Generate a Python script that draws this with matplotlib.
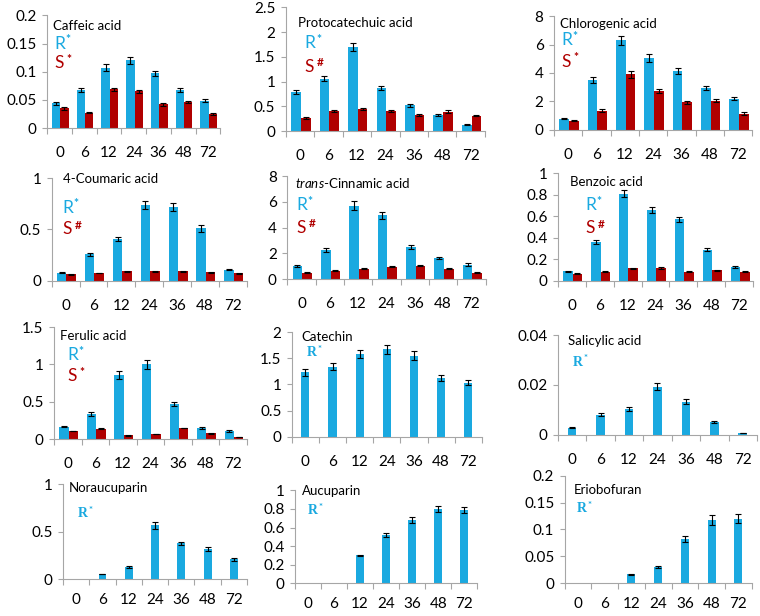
import matplotlib
matplotlib.use('Agg')
import matplotlib.pyplot as plt
import numpy as np
from matplotlib.ticker import FixedLocator, FuncFormatter

plt.rcParams['font.family'] = ['Lato', 'DejaVu Sans']
plt.rcParams['mathtext.fontset'] = 'custom'
plt.rcParams['mathtext.it'] = 'Lato:italic'
plt.rcParams['mathtext.rm'] = 'Lato'

hours = ['0', '6', '12', '24', '36', '48', '72']

# values (R = blue, S = red)
caffeic_R = [0.044, 0.068, 0.107, 0.120, 0.097, 0.068, 0.049]
caffeic_R_err = [0.003, 0.004, 0.006, 0.007, 0.005, 0.004, 0.003]
caffeic_S = [0.035, 0.027, 0.069, 0.065, 0.042, 0.046, 0.025]
caffeic_S_err = [0.002, 0.001, 0.003, 0.003, 0.002, 0.002, 0.001]

proto_R = [0.80, 1.06, 1.70, 0.87, 0.52, 0.32, 0.13]
proto_R_err = [0.04, 0.05, 0.08, 0.04, 0.03, 0.02, 0.01]
proto_S = [0.26, 0.41, 0.44, 0.40, 0.33, 0.39, 0.31]
proto_S_err = [0.02, 0.02, 0.02, 0.02, 0.02, 0.03, 0.01]

chloro_R = [0.78, 3.50, 6.30, 5.05, 4.15, 2.95, 2.20]
chloro_R_err = [0.04, 0.20, 0.30, 0.25, 0.20, 0.15, 0.10]
chloro_S = [0.65, 1.35, 3.90, 2.75, 1.95, 2.05, 1.15]
chloro_S_err = [0.03, 0.10, 0.25, 0.15, 0.10, 0.10, 0.08]

coum_R = [0.080, 0.260, 0.410, 0.740, 0.720, 0.510, 0.110]
coum_R_err = [0.005, 0.015, 0.020, 0.040, 0.040, 0.030, 0.006]
coum_S = [0.065, 0.075, 0.095, 0.095, 0.095, 0.085, 0.072]
coum_S_err = [0.003, 0.003, 0.004, 0.004, 0.004, 0.004, 0.003]

cinn_R = [1.00, 2.25, 5.70, 4.95, 2.50, 1.65, 1.12]
cinn_R_err = [0.08, 0.15, 0.35, 0.30, 0.18, 0.10, 0.10]
cinn_S = [0.48, 0.65, 0.82, 0.95, 1.03, 0.82, 0.48]
cinn_S_err = [0.03, 0.04, 0.04, 0.05, 0.05, 0.04, 0.03]

benz_R = [0.090, 0.360, 0.810, 0.660, 0.570, 0.290, 0.125]
benz_R_err = [0.005, 0.020, 0.035, 0.030, 0.025, 0.015, 0.010]
benz_S = [0.065, 0.085, 0.115, 0.120, 0.085, 0.100, 0.085]
benz_S_err = [0.004, 0.005, 0.006, 0.006, 0.004, 0.005, 0.004]

ferul_R = [0.17, 0.34, 0.86, 1.00, 0.47, 0.15, 0.11]
ferul_R_err = [0.010, 0.025, 0.050, 0.060, 0.030, 0.010, 0.008]
ferul_S = [0.11, 0.14, 0.05, 0.07, 0.15, 0.08, 0.03]
ferul_S_err = [0.005, 0.006, 0.003, 0.004, 0.006, 0.004, 0.002]

catechin_R = [1.23, 1.34, 1.58, 1.67, 1.55, 1.12, 1.03]
catechin_R_err = [0.07, 0.07, 0.08, 0.09, 0.08, 0.06, 0.05]

salicyl_R = [0.0029, 0.0080, 0.0105, 0.0193, 0.0133, 0.0051, 0.0008]
salicyl_R_err = [0.0002, 0.0006, 0.0008, 0.0015, 0.0010, 0.0004, 0.0001]

noraucu_R = [0, 0.055, 0.130, 0.565, 0.375, 0.315, 0.210]
noraucu_R_err = [0, 0.003, 0.010, 0.035, 0.020, 0.020, 0.015]

aucu_R = [0, 0, 0.30, 0.52, 0.68, 0.80, 0.79]
aucu_R_err = [0, 0, 0.01, 0.02, 0.03, 0.03, 0.035]

erio_R = [0, 0, 0.017, 0.031, 0.082, 0.118, 0.120]
erio_R_err = [0, 0, 0.001, 0.002, 0.006, 0.009, 0.008]

titles = ['Caffeic acid', 'Protocatechuic acid', 'Chlorogenic acid',
          '4-Coumaric acid', r'$\it{trans}$-Cinnamic acid', 'Benzoic acid',
          'Ferulic acid', 'Catechin', 'Salicylic acid',
          'Noraucuparin', 'Aucuparin', 'Eriobofuran']
R_series = [caffeic_R, proto_R, chloro_R, coum_R, cinn_R, benz_R,
            ferul_R, catechin_R, salicyl_R, noraucu_R, aucu_R, erio_R]
R_errors = [caffeic_R_err, proto_R_err, chloro_R_err, coum_R_err, cinn_R_err, benz_R_err,
            ferul_R_err, catechin_R_err, salicyl_R_err, noraucu_R_err, aucu_R_err, erio_R_err]
S_series = [caffeic_S, proto_S, chloro_S, coum_S, cinn_S, benz_S, ferul_S]
S_errors = [caffeic_S_err, proto_S_err, chloro_S_err, coum_S_err, cinn_S_err, benz_S_err, ferul_S_err]
S_marks = ['*', '#', '*', '#', '#', '#', '*']
y_max = [0.2, 2.5, 8, 1, 8, 1, 1.5, 2, 0.04, 1, 1, 0.2]
y_step = [0.05, 0.5, 2, 0.5, 2, 0.2, 0.5, 0.5, 0.02, 0.5, 0.2, 0.05]

# layout: axes rectangles in figure fractions, label positions in axes fractions
rects = [(0.062, 0.792, 0.228, 0.183), (0.376, 0.787, 0.262, 0.201), (0.729, 0.789, 0.261, 0.185),
         (0.068, 0.544, 0.257, 0.167), (0.378, 0.547, 0.261, 0.167), (0.734, 0.544, 0.257, 0.175),
         (0.071, 0.287, 0.254, 0.182), (0.384, 0.291, 0.250, 0.170), (0.734, 0.294, 0.262, 0.162),
         (0.083, 0.060, 0.242, 0.154), (0.388, 0.053, 0.240, 0.151), (0.743, 0.053, 0.246, 0.175)]
title_xy = [(0.035, 0.91), (0.06, 0.87), (0.03, 0.93), (0.056, 0.99), (0.04, 0.93), (0.06, 0.92),
            (0.03, 0.92), (0.05, 0.95), (0.05, 0.94), (0.03, 0.96), (0.04, 0.99), (0.05, 0.87)]
R_xy = [(0.04, 0.75), (0.095, 0.71), (0.035, 0.79), (0.056, 0.71), (0.045, 0.72), (0.14, 0.70),
        (0.07, 0.75), (0.08, 0.80), (0.075, 0.73), (0.08, 0.69), (0.07, 0.78), (0.065, 0.69)]
S_y = [0.575, 0.52, 0.60, 0.50, 0.50, 0.49, 0.56]

blue = '#1aa9e0'
red = '#b00000'
grey = '#a6a6a6'


def tag(ax, x, y, letter, mark, color, serif, gap):
    if serif:
        kw = dict(family='Liberation Serif', weight='bold', size=10)
    else:
        kw = dict(size=12.5)
    t = ax.text(x, y, letter, transform=ax.transAxes, color=color,
                ha='left', va='center', **kw)
    ax.annotate(mark, xy=(1, 0.4), xycoords=t, xytext=(gap, 0),
                textcoords='offset points', color=color, ha='left', va='bottom',
                size=kw['size'] * 0.68, weight='bold')


fig = plt.figure(figsize=(7.6, 6.16), dpi=100)
x = np.arange(len(hours))

for i in range(12):
    ax = fig.add_axes(rects[i])
    R = np.array(R_series[i])
    Re = np.array(R_errors[i])
    two = i < len(S_series)
    if two:
        w = 0.34
        xr = x - w / 2 + 0.03
        xs = x + w / 2 + 0.03
    else:
        w = 0.3
        xr = x
    ax.bar(xr, R, w, color=blue, zorder=2)
    m = R > 0
    ax.errorbar(xr[m], R[m], yerr=Re[m], fmt='none', ecolor='black',
                elinewidth=0.8, capsize=2.5, capthick=0.8, zorder=3)
    if two:
        S = np.array(S_series[i])
        Se = np.array(S_errors[i])
        ax.bar(xs, S, w, color=red, zorder=2)
        ax.errorbar(xs, S, yerr=Se, fmt='none', ecolor='black',
                    elinewidth=0.8, capsize=2.5, capthick=0.8, zorder=3)

    ax.set_xlim(-0.5, len(hours) - 0.5)
    ax.set_ylim(0, y_max[i])
    ax.yaxis.set_major_locator(FixedLocator(np.arange(0, y_max[i] + y_step[i] / 2, y_step[i])))
    ax.yaxis.set_major_formatter(FuncFormatter(lambda v, p: '{:g}'.format(round(v, 4))))
    ax.set_xticks(x)
    ax.set_xticklabels(hours)
    ax.set_xticks(np.arange(-0.5, len(hours)), minor=True)
    pad = 10 if i >= 9 else 13
    ax.tick_params(axis='x', which='major', length=0, pad=pad, labelsize=11)
    ax.tick_params(axis='x', which='minor', length=4, color=grey, width=0.8)
    ax.tick_params(axis='y', length=3.5, color=grey, width=0.8, pad=4, labelsize=11)
    for s in ['top', 'right']:
        ax.spines[s].set_visible(False)
    for s in ['left', 'bottom']:
        ax.spines[s].set_color(grey)
        ax.spines[s].set_linewidth(0.8)

    ax.text(title_xy[i][0], title_xy[i][1], titles[i], transform=ax.transAxes,
            ha='left', va='center', size=9.5, color='black')
    if two:
        tag(ax, R_xy[i][0], R_xy[i][1], 'R', '*', blue, False, 0.3)
        tag(ax, R_xy[i][0], S_y[i], 'S', S_marks[i], red, False, 2)
    else:
        tag(ax, R_xy[i][0], R_xy[i][1], 'R', '*', blue, True, 0.3)

fig.savefig('out.png', dpi=100)
